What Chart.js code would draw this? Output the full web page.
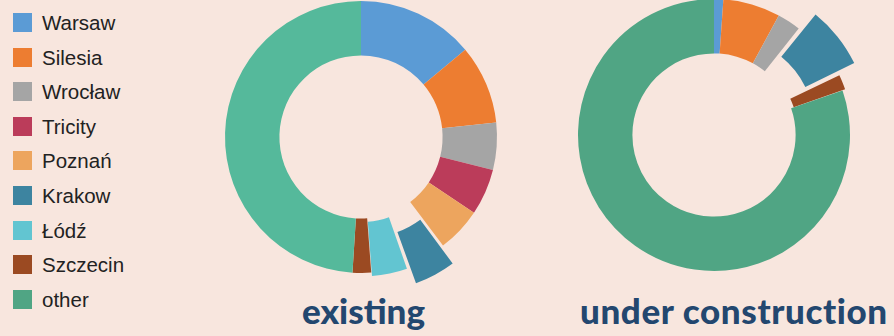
<!DOCTYPE html>
<html lang="pl">
<head>
  <meta charset="UTF-8" />
  <title>Office stock: existing vs under construction</title>
  <script src="https://cdn.jsdelivr.net/npm/chart.js"></script>
  <style>
    html, body {
      margin: 0;
      padding: 0;
      width: 894px;
      height: 336px;
      overflow: hidden;
      background: #f8e6de;
      font-family: "Liberation Sans", Arial, sans-serif;
    }
    .box {
      position: absolute;
      width: 300px;
      height: 300px;
    }
    #legenda {
      position: absolute;
      left: 13px;
      top: 13px;
      margin: 0;
      padding: 0;
      list-style: none;
    }
    #legenda li {
      position: relative;
      height: 34.6px;
      font-size: 20.5px;
      color: #222;
    }
    #legenda li span {
      position: absolute;
      left: 0;
      top: 0;
      width: 19px;
      height: 19px;
    }
    #legenda li b {
      position: absolute;
      left: 29px;
      top: -1px;
      font-weight: normal;
      line-height: 22px;
    }
    .tytul {
      position: absolute;
      top: 289px;
      margin: 0;
      font-family: Lato, "DejaVu Sans", sans-serif;
      font-weight: 900;
      font-size: 35px;
      color: #23476f;
      white-space: nowrap;
    }
  </style>
</head>
<body>
  <ul id="legenda"></ul>

  <div class="box" style="left:211px; top:-13px;"><canvas id="wykresIstniejace"></canvas></div>
  <div class="box" style="left:564px; top:-15px;"><canvas id="wykresBudowa"></canvas></div>

  <p class="tytul" style="left:302px;">existing</p>
  <p class="tytul" style="left:580px; letter-spacing:0.6px;">under construction</p>

  <script>
    // regiony i kolory
    const regiony = ['Warsaw', 'Silesia', 'Wrocław', 'Tricity', 'Poznań', 'Krakow', 'Łódź', 'Szczecin', 'other'];
    const kolory = ['#5b9bd5', '#ed7d31', '#a5a5a5', '#bb3c5a', '#eda55e', '#3d84a0', '#62c5d1', '#9b4a22', '#50a584'];

    // udział w %
    const istniejace = [13.9, 9.4, 5.6, 5.5, 5.3, 4.9, 4.2, 2.2, 49.0];
    const wBudowie = [1.1, 6.8, 2.8, 0, 0, 7.2, 0, 1.8, 80.3];

    // wysunięte wycinki (Chart.js przesuwa łuk o offset/4 px)
    const wysuniecieIstn = [0, 0, 0, 0, 0, 48, 8, 0, 0];
    const wysuniecieBud = [0, 0, 0, 0, 0, 56, 0, 6, 0];

    const legenda = document.getElementById('legenda');
    regiony.forEach((nazwa, i) => {
      const li = document.createElement('li');
      li.innerHTML = '<span style="background:' + kolory[i] + '"></span><b>' + nazwa + '</b>';
      legenda.appendChild(li);
    });

    function rysuj(id, dane, wysuniecie, kolorInne) {
      const tlo = kolory.slice();
      tlo[tlo.length - 1] = kolorInne;
      new Chart(document.getElementById(id), {
        type: 'doughnut',
        data: {
          labels: regiony,
          datasets: [{
            data: dane,
            backgroundColor: tlo,
            borderWidth: 0,
            offset: wysuniecie
          }]
        },
        options: {
          responsive: true,
          maintainAspectRatio: false,
          animation: false,
          radius: 136,
          cutout: '60%',
          layout: { padding: 0 },
          plugins: {
            legend: { display: false },
            tooltip: { enabled: false }
          }
        }
      });
    }

    rysuj('wykresIstniejace', istniejace, wysuniecieIstn, '#55b99b');
    rysuj('wykresBudowa', wBudowie, wysuniecieBud, '#50a584');
  </script>
</body>
</html>
